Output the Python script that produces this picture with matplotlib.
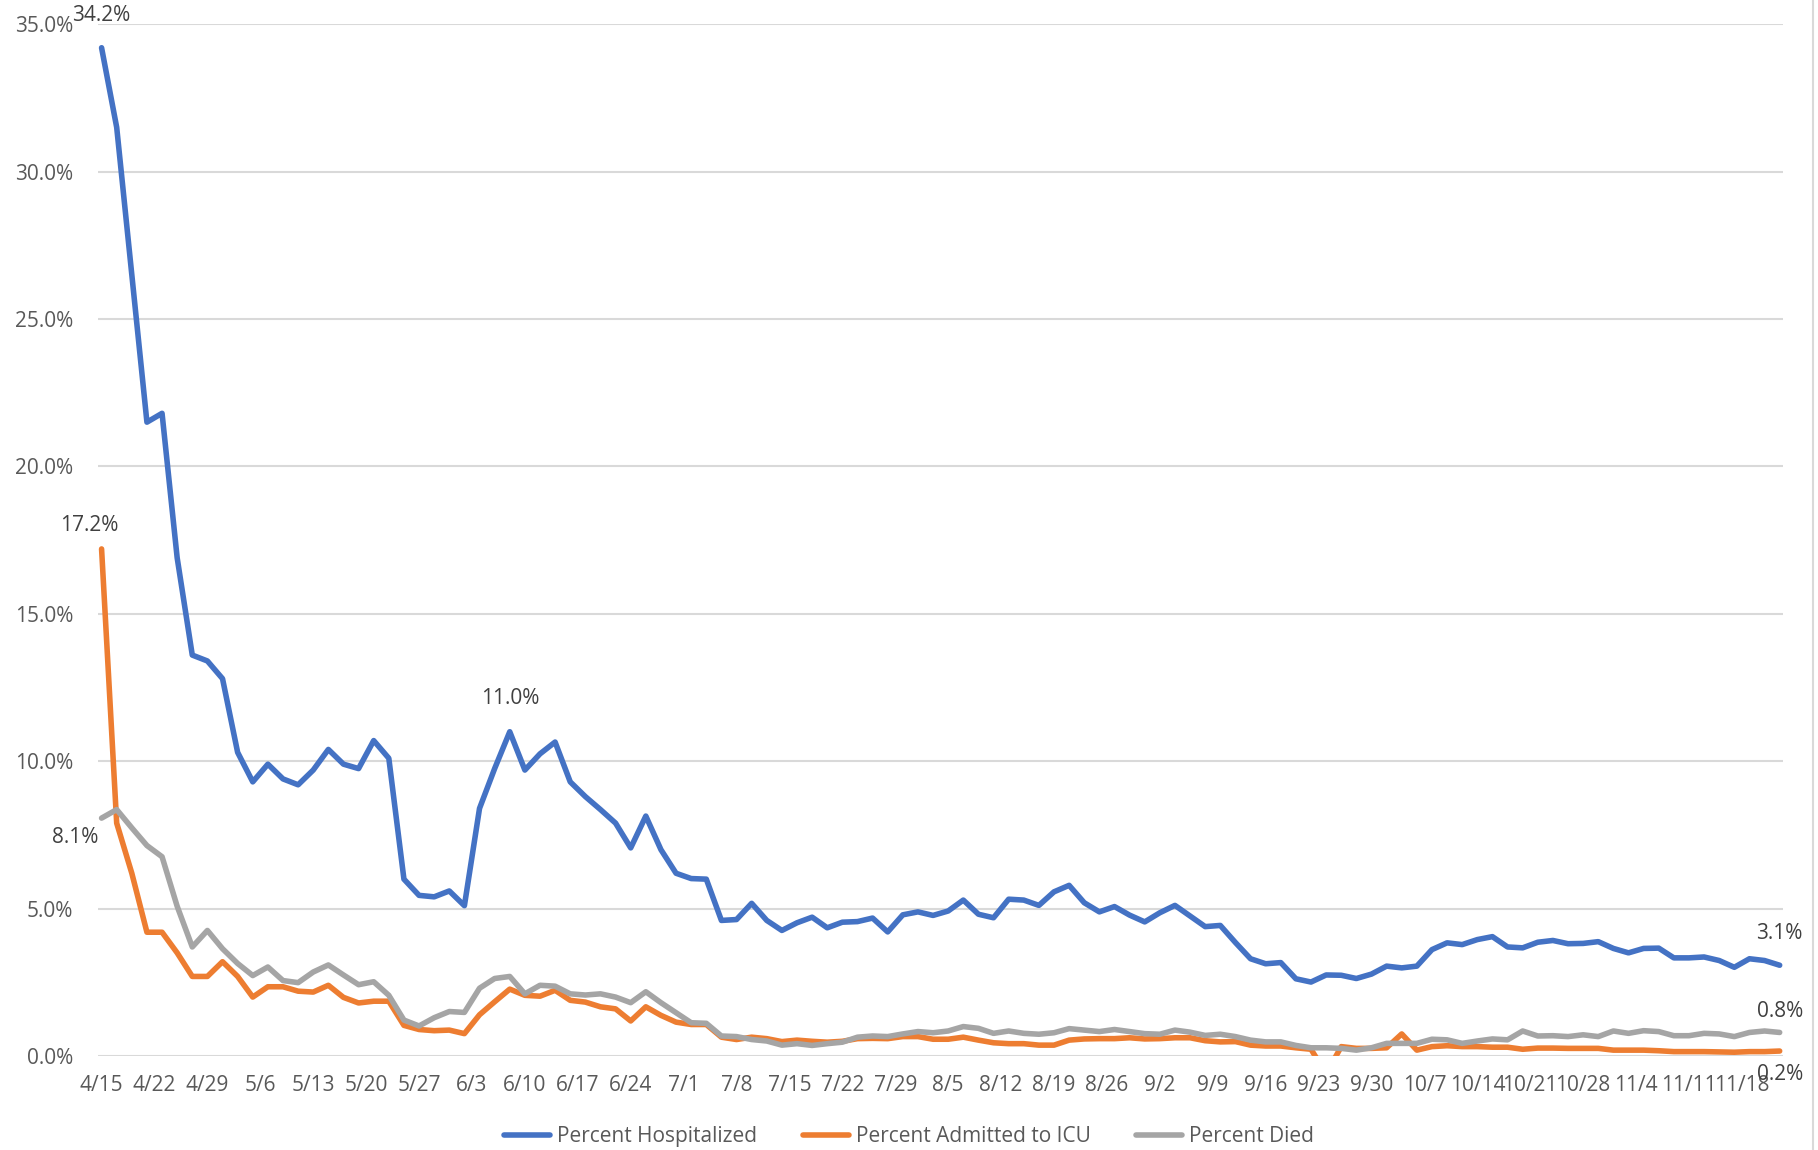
import numpy as np
import matplotlib
matplotlib.use("Agg")
import matplotlib.pyplot as plt
from matplotlib.lines import Line2D

plt.rcParams['font.family'] = ['Open Sans', 'DejaVu Sans']

# jours depuis le 15 avril (un point tous les deux jours)
jours = np.arange(0, 223, 2)

hospitalises = [
    34.2, 31.5, 26.5, 21.5, 21.8, 16.9, 13.6, 13.4, 12.8, 10.3,
    9.3, 9.9, 9.4, 9.2, 9.7, 10.4, 9.9, 9.75, 10.7, 10.1,
    6.0, 5.45, 5.4, 5.6, 5.1, 8.4, 9.75, 11.0, 9.7, 10.25,
    10.65, 9.3, 8.8, 8.36, 7.9, 7.06, 8.14, 7.0, 6.2, 6.02,
    6.0, 4.6, 4.63, 5.18, 4.6, 4.26, 4.52, 4.71, 4.35, 4.54,
    4.56, 4.68, 4.21, 4.79, 4.89, 4.77, 4.92, 5.29, 4.81, 4.69,
    5.32, 5.29, 5.11, 5.57, 5.79, 5.2, 4.89, 5.07, 4.78, 4.55,
    4.86, 5.11, 4.75, 4.39, 4.43, 3.85, 3.3, 3.13, 3.17, 2.62,
    2.51, 2.75, 2.74, 2.63, 2.78, 3.05, 2.99, 3.05, 3.61, 3.84,
    3.78, 3.95, 4.05, 3.7, 3.67, 3.86, 3.92, 3.81, 3.82, 3.88,
    3.65, 3.5, 3.65, 3.66, 3.33, 3.33, 3.36, 3.24, 3.01, 3.3,
    3.24, 3.08,
]

soins_intensifs = [
    17.2, 7.9, 6.2, 4.2, 4.2, 3.5, 2.7, 2.7, 3.2, 2.7,
    2.0, 2.35, 2.35, 2.2, 2.17, 2.4, 1.99, 1.8, 1.86, 1.86,
    1.04, 0.9, 0.86, 0.88, 0.76, 1.4, 1.84, 2.27, 2.06, 2.03,
    2.23, 1.89, 1.83, 1.67, 1.6, 1.19, 1.67, 1.38, 1.15, 1.07,
    1.07, 0.64, 0.56, 0.64, 0.59, 0.49, 0.54, 0.5, 0.47, 0.5,
    0.59, 0.6, 0.59, 0.66, 0.66, 0.57, 0.57, 0.64, 0.54, 0.45,
    0.42, 0.42, 0.37, 0.37, 0.54, 0.58, 0.59, 0.59, 0.62, 0.58,
    0.59, 0.62, 0.62, 0.52, 0.48, 0.49, 0.37, 0.34, 0.34, 0.28,
    0.23, -0.6, 0.32, 0.26, 0.26, 0.28, 0.75, 0.2, 0.32, 0.35,
    0.32, 0.32, 0.3, 0.3, 0.23, 0.27, 0.27, 0.26, 0.26, 0.26,
    0.2, 0.2, 0.2, 0.18, 0.15, 0.15, 0.15, 0.14, 0.13, 0.15,
    0.15, 0.17,
]

deces = [
    8.07, 8.36, 7.74, 7.14, 6.76, 5.08, 3.7, 4.26, 3.64, 3.14,
    2.73, 3.02, 2.56, 2.49, 2.85, 3.09, 2.75, 2.42, 2.52, 2.06,
    1.22, 1.02, 1.3, 1.51, 1.48, 2.3, 2.63, 2.7, 2.11, 2.4,
    2.37, 2.11, 2.07, 2.11, 2.0, 1.81, 2.18, 1.81, 1.47, 1.13,
    1.11, 0.68, 0.66, 0.56, 0.51, 0.37, 0.42, 0.36, 0.42, 0.47,
    0.64, 0.68, 0.66, 0.75, 0.83, 0.79, 0.85, 1.0, 0.94, 0.77,
    0.85, 0.77, 0.74, 0.79, 0.93, 0.88, 0.83, 0.9, 0.83, 0.76,
    0.74, 0.88, 0.81, 0.7, 0.74, 0.66, 0.54, 0.48, 0.48, 0.36,
    0.28, 0.28, 0.26, 0.2, 0.28, 0.43, 0.43, 0.43, 0.57, 0.55,
    0.43, 0.51, 0.58, 0.55, 0.85, 0.68, 0.69, 0.66, 0.72, 0.66,
    0.85, 0.77, 0.86, 0.83, 0.69, 0.69, 0.77, 0.75, 0.66, 0.8,
    0.85, 0.8,
]

etiquettes_x = ['4/15', '4/22', '4/29', '5/6', '5/13', '5/20', '5/27', '6/3',
                '6/10', '6/17', '6/24', '7/1', '7/8', '7/15', '7/22', '7/29',
                '8/5', '8/12', '8/19', '8/26', '9/2', '9/9', '9/16', '9/23',
                '9/30', '10/7', '10/14', '10/21', '10/28', '11/4', '11/11', '11/18']
positions_x = np.arange(0, 7 * len(etiquettes_x), 7)

gris_texte = '#595959'
gris_grille = '#D9D9D9'
taille = 15

fig = plt.figure(figsize=(18.18, 11.5), dpi=100)
ax = fig.add_axes([0.054, 0.0817, 0.927, 0.8973])

style = dict(linewidth=4.0, solid_capstyle='round', solid_joinstyle='round')
ax.plot(jours, hospitalises, color='#4472C4', label='Percent Hospitalized', **style)
ax.plot(jours, soins_intensifs, color='#ED7D31', label='Percent Admitted to ICU', **style)
ax.plot(jours, deces, color='#A5A5A5', label='Percent Died', **style)

ax.set_xlim(-0.45, 222.5)
ax.set_ylim(0, 35)
ax.set_yticks(np.arange(0, 36, 5))
ax.set_yticklabels([f'{v:.1f}%' for v in np.arange(0, 36, 5)])
ax.set_xticks(positions_x)
ax.set_xticklabels(etiquettes_x)
ax.tick_params(axis='both', length=0, labelsize=taille, labelcolor=gris_texte)
ax.tick_params(axis='y', pad=18)
ax.tick_params(axis='x', pad=14)
ax.grid(axis='y', color=gris_grille, linewidth=1.5)
ax.set_axisbelow(True)
for s in ax.spines.values():
    s.set_visible(False)

# étiquettes de données
def etiquette(x, y, dx, dy):
    ax.annotate(f'{y:.1f}%', (x, y), xytext=(dx, dy), textcoords='offset points',
                ha='center', va='center', fontsize=taille, color='#404040',
                annotation_clip=False)

etiquette(jours[0], hospitalises[0], 0, 23)
etiquette(jours[0], soins_intensifs[0], -9, 17)
etiquette(jours[0], deces[0], -19, -14)
i_pic = 27
etiquette(jours[i_pic], hospitalises[i_pic], 0, 24)
etiquette(jours[-1], hospitalises[-1], 0, 23)
etiquette(jours[-1], deces[-1], 0, 15)
etiquette(jours[-1], soins_intensifs[-1], 0, -17)

fig.legend(loc='lower center', bbox_to_anchor=(0.5, -0.014), ncol=3, frameon=False,
           fontsize=taille, labelcolor=gris_texte, handlelength=2.2,
           handletextpad=0.34, columnspacing=2.2)

# bordure droite de la zone de graphique
fig.add_artist(Line2D([0.997, 0.997], [0, 1], color=gris_grille, linewidth=1.5))

fig.savefig('out.png', dpi=100)
